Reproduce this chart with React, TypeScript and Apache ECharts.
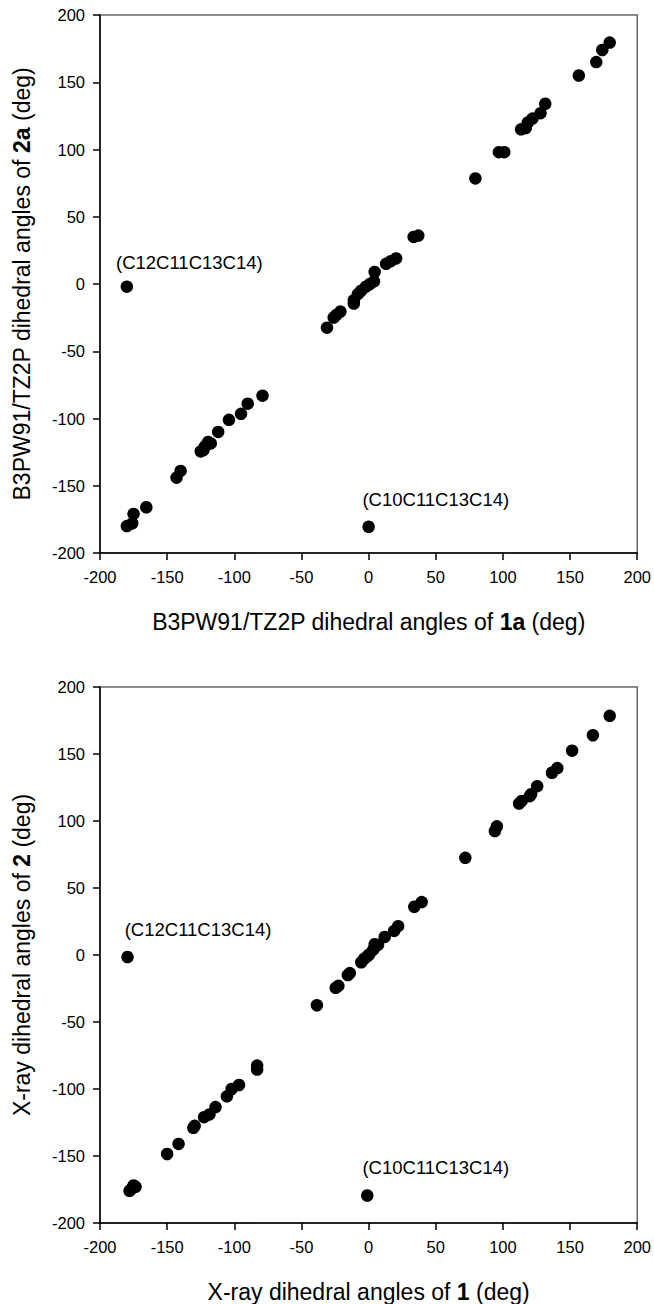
import React, { useEffect, useRef } from "react";
import * as echarts from "echarts";

// Top panel: B3PW91/TZ2P dihedral angles, 1a (x) vs 2a (y)
const topX: number[] = [
  -180, 179.5, 174, 169.5, 156.5, 131.5, 128, 122, 118.5, 117, 113.5, 101, 97, 79.5,
  37, 33.5, 20.5, 16.5, 13, 4.5, 4, 1, -2, -5.5, -8, -11, -11, -21, -24, -26, -31,
  -79, -90, -95, -104, -112, -117.5, -119.5, -122, -123, -125, -140, -143, -165.5,
  -175, -176, -180, 0,
];
const topY: number[] = [
  -2, 179.5, 174, 165, 155, 134, 127, 123, 120, 116, 115, 98, 98, 78.5,
  36, 35, 19, 17, 15, 9, 2, 0, -2, -5, -7.5, -12, -14.5, -20.5, -23, -25, -32.5,
  -83, -89, -96.5, -101, -110, -118.5, -117.5, -121, -123.5, -124.5, -139, -144, -166,
  -171, -178, -180, -180.5,
];

// Bottom panel: X-ray dihedral angles, 1 (x) vs 2 (y)
const botX: number[] = [
  -179.5, 179.5, 167, 151.5, 140.5, 136.5, 125.5, 121, 120, 114, 112, 95.5, 94, 72,
  39.5, 34, 22, 19, 12, 7, 4.5, 3.5, 0.5, -1, -3.5, -5.5, -15.5, -14, -22.5, -24.5,
  -38.5, -83, -83, -96.5, -102, -105.5, -114, -118.5, -122.5, -129.5, -130.5, -141.5,
  -150, -173.5, -175, -176.5, -178, -1,
];
const botY: number[] = [
  -1.5, 178.5, 164, 152.5, 139.5, 136, 126, 120, 118.5, 115, 113, 96, 92.5, 72.5,
  39.5, 36, 21.5, 18, 13.5, 7.5, 8, 4, 0.5, -1, -3, -5.5, -15, -13.5, -23, -24.5,
  -37.5, -82.5, -85.5, -97, -100, -105.5, -113.5, -119, -121, -127.5, -129, -141,
  -148.5, -173, -172, -174.5, -176, -179.5,
];

// Annotations: [x, y, text]
const topNotes: [number, number, string][] = [
  [-133.5, 16, "(C12C11C13C14)"],
  [50, -160, "(C10C11C13C14)"],
];
const botNotes: [number, number, string][] = [
  [-127, 19, "(C12C11C13C14)"],
  [50, -158.5, "(C10C11C13C14)"],
];

const axisMin = -200;
const axisMax = 200;
const axisStep = 50;

const FONT = "'Liberation Sans', Arial, sans-serif";

export default function App() {
  const ref = useRef<HTMLDivElement>(null);
  useEffect(() => {
    if (!ref.current) return;
    const chart = echarts.init(ref.current, undefined, { renderer: "svg" });
    const rich = {
      b: { fontWeight: "bold" as const, fontSize: 23, fontFamily: FONT, color: "#000" },
    };
    const common = {
      type: "value" as const,
      min: axisMin,
      max: axisMax,
      interval: axisStep,
      nameLocation: "middle" as const,
      nameTextStyle: { fontSize: 23, fontFamily: FONT, color: "#000", rich },
      axisLine: { show: true, onZero: false, lineStyle: { color: "#000", width: 1.5 } },
      axisTick: { show: true, inside: false, length: 7, lineStyle: { color: "#000", width: 1.5 } },
      axisLabel: { fontSize: 16.5, fontFamily: FONT, color: "#000", margin: 15 },
      splitLine: { show: false },
    };
    const mkX = (gridIndex: number, name: string) => ({ ...common, gridIndex, name, nameGap: 57 });
    const mkY = (gridIndex: number, name: string) => ({ ...common, gridIndex, name, nameGap: 67 });
    const pts = (xs: number[], ys: number[]) => xs.map((x, i) => [x, ys[i]]);
    const dotSeries = (idx: number, xs: number[], ys: number[]) => ({
      type: "scatter" as const,
      xAxisIndex: idx,
      yAxisIndex: idx,
      symbol: "circle",
      symbolSize: 12.5,
      itemStyle: { color: "#000", opacity: 1 },
      data: pts(xs, ys),
    });
    const noteSeries = (idx: number, notes: [number, number, string][]) => ({
      type: "scatter" as const,
      xAxisIndex: idx,
      yAxisIndex: idx,
      symbolSize: 0,
      silent: true,
      itemStyle: { opacity: 1 },
      data: notes.map((n) => [n[0], n[1], n[2]]),
      label: {
        show: true,
        position: "inside" as const,
        formatter: (p: any) => p.value[2],
        fontSize: 18.5,
        fontFamily: FONT,
        color: "#000",
      },
    });
    chart.setOption({
      animation: false,
      backgroundColor: "#fff",
      grid: [
        { left: 100, top: 15, width: 538, height: 538, show: true, borderColor: "#666", borderWidth: 1.5 },
        { left: 100, top: 687, width: 538, height: 537, show: true, borderColor: "#666", borderWidth: 1.5 },
      ],
      xAxis: [
        mkX(0, "B3PW91/TZ2P dihedral angles of {b|1a} (deg)"),
        mkX(1, "X-ray dihedral angles of {b|1} (deg)"),
      ],
      yAxis: [
        mkY(0, "B3PW91/TZ2P dihedral angles of {b|2a} (deg)"),
        mkY(1, "X-ray dihedral angles of {b|2} (deg)"),
      ],
      series: [
        dotSeries(0, topX, topY),
        dotSeries(1, botX, botY),
        noteSeries(0, topNotes),
        noteSeries(1, botNotes),
      ],
    });
    return () => chart.dispose();
  }, []);
  return (
    <div
      ref={ref}
      style={{ position: "absolute", left: 0, top: 0, width: 654, height: 1304, background: "#fff" }}
    />
  );
}
